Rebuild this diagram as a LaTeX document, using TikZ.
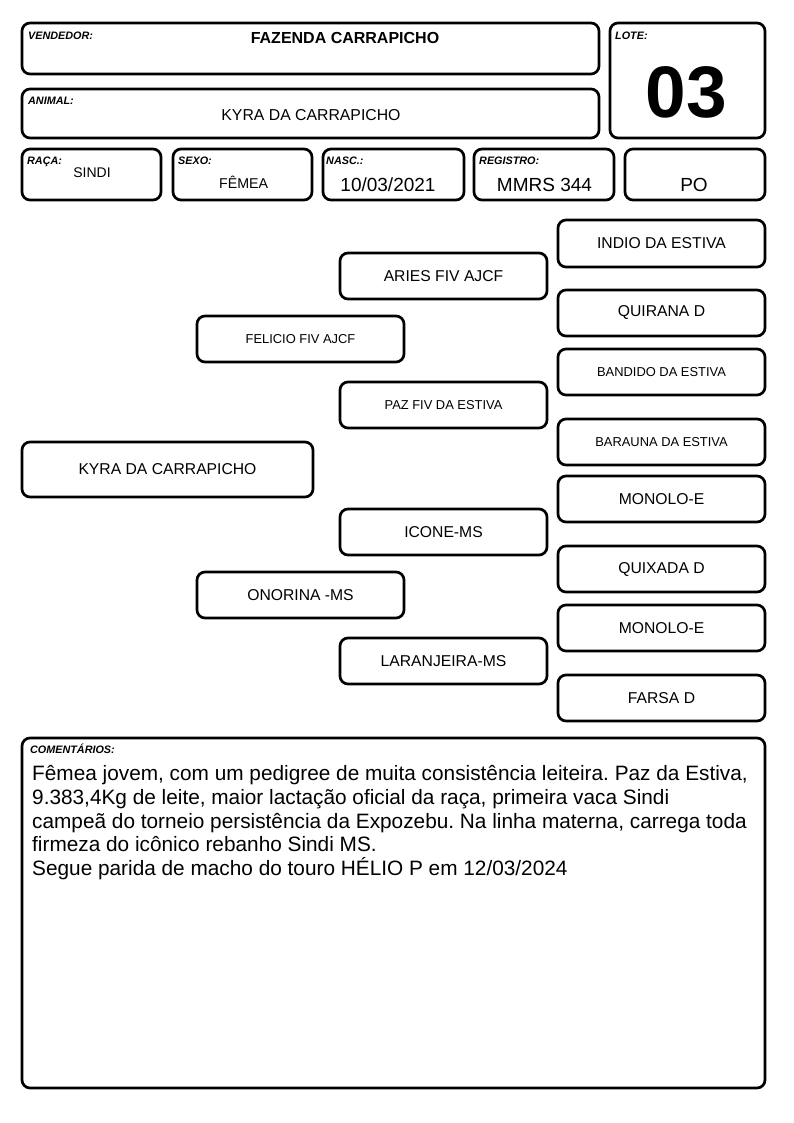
\documentclass[tikz,border=0pt]{standalone}
\usepackage{fontspec}
\setmainfont{Liberation Sans}
\frenchspacing
\begin{document}
\begin{tikzpicture}[x=1pt,y=-1pt,
  box/.style={draw=black, line width=2.7pt, rounded corners=8pt, inner sep=0pt},
  pbox/.style={box, minimum width=207pt, minimum height=46pt},
  lbl/.style={font=\fontsize{10.8}{12}\selectfont\bfseries\itshape, anchor=base west, inner sep=0pt},
  val/.style={anchor=base, inner sep=0pt},
  bigt/.style={font=\fontsize{15.7}{18}\selectfont},
  smallt/.style={font=\fontsize{12.9}{15}\selectfont},
  ctext/.style={anchor=base west, inner sep=0pt, font=\fontsize{20.8}{24}\selectfont}]
\useasboundingbox (0,0) rectangle (794,1123);
% header boxes
\node[box, minimum width=577pt, minimum height=51pt] (vend) at (310.5,48.5) {};
\node[box, minimum width=577pt, minimum height=49pt] (anim) at (310.5,113.5) {};
\node[box, minimum width=155pt, minimum height=115pt] (lote) at (687.5,80.5) {};
\node[box, minimum width=139pt, minimum height=51pt] (raca) at (91.5,174.5) {};
\node[box, minimum width=139pt, minimum height=51pt] (sexo) at (242.5,174.5) {};
\node[box, minimum width=141pt, minimum height=51pt] (nasc) at (393.5,174.5) {};
\node[box, minimum width=140pt, minimum height=51pt] (regi) at (544,174.5) {};
\node[box, minimum width=140pt, minimum height=51pt] (po) at (695,174.5) {};
% labels
\node[lbl] (lvend) at (28,39.5) {VENDEDOR:};
\node[lbl] (lanim) at (28,104.5) {ANIMAL:};
\node[lbl] (llote) at (615,39.5) {LOTE:};
\node[lbl] (lraca) at (27,164.5) {RAÇA:};
\node[lbl] (lsexo) at (178,165) {SEXO:};
\node[lbl] (lnasc) at (326,165) {NASC.:};
\node[lbl] (lregi) at (479,165) {REGISTRO:};
% values
\node[val, font=\fontsize{16}{19}\selectfont\bfseries] (tvend) at (345,43.5) {FAZENDA CARRAPICHO};
\node[val, font=\fontsize{15.8}{19}\selectfont] (tanim) at (311,121) {KYRA DA CARRAPICHO};
\node[val, font=\fontsize{73}{80}\selectfont\bfseries] (tlote) at (686.5,118) {03};
\node[val, font=\fontsize{14}{17}\selectfont] (traca) at (92,177.5) {SINDI};
\node[val, font=\fontsize{14.2}{17}\selectfont] (tsexo) at (243.7,189) {FÊMEA};
\node[val, font=\fontsize{19}{22}\selectfont] (tnasc) at (388,191.5) {10/03/2021};
\node[val, font=\fontsize{19}{22}\selectfont] (tregi) at (544.5,191.5) {MMRS 344};
\node[val, font=\fontsize{19}{22}\selectfont] (tpo) at (694,191.5) {PO};
% pedigree
\node[box, bigt, minimum width=291pt, minimum height=55pt] (kyra) at (167.5,469.5) {KYRA DA CARRAPICHO};
\node[pbox, smallt] (felicio) at (300.5,339) {FELICIO FIV AJCF};
\node[pbox, bigt] (onorina) at (300.5,595) {ONORINA -MS};
\node[pbox, bigt] (aries) at (443.5,276) {ARIES FIV AJCF};
\node[pbox, smallt] (paz) at (443.5,405) {PAZ FIV DA ESTIVA};
\node[pbox, bigt] (icone) at (443.5,532) {ICONE-MS};
\node[pbox, bigt] (laranj) at (443.5,661) {LARANJEIRA-MS};
\node[pbox, bigt, minimum height=47pt] (indio) at (661.5,243.5) {INDIO DA ESTIVA};
\node[pbox, bigt] (quirana) at (661.5,313) {QUIRANA D};
\node[pbox, smallt] (bandido) at (661.5,372) {BANDIDO DA ESTIVA};
\node[pbox, smallt] (barauna) at (661.5,442) {BARAUNA DA ESTIVA};
\node[pbox, bigt] (monoloa) at (661.5,499) {MONOLO-E};
\node[pbox, bigt] (quixada) at (661.5,569) {QUIXADA D};
\node[pbox, bigt] (monolob) at (661.5,628) {MONOLO-E};
\node[pbox, bigt] (farsa) at (661.5,698) {FARSA D};
% comments
\node[box, minimum width=743pt, minimum height=350pt] (coment) at (393.5,913) {};
\node[lbl] (lcoment) at (30,753) {COMENTÁRIOS:};
\node[ctext] (c1) at (32,780.9) {Fêmea jovem, com um pedigree de muita consistência leiteira. Paz da Estiva,};
\node[ctext] (c2) at (32,804.5) {9.383,4Kg de leite, maior lactação oficial da raça, primeira vaca Sindi};
\node[ctext] (c3) at (32,828) {campeã do torneio persistência da Expozebu. Na linha materna, carrega toda};
\node[ctext] (c4) at (32,851.6) {firmeza do icônico rebanho Sindi MS.};
\node[ctext] (c5) at (32,875.2) {Segue parida de macho do touro HÉLIO P em 12/03/2024};
\end{tikzpicture}
\end{document}
